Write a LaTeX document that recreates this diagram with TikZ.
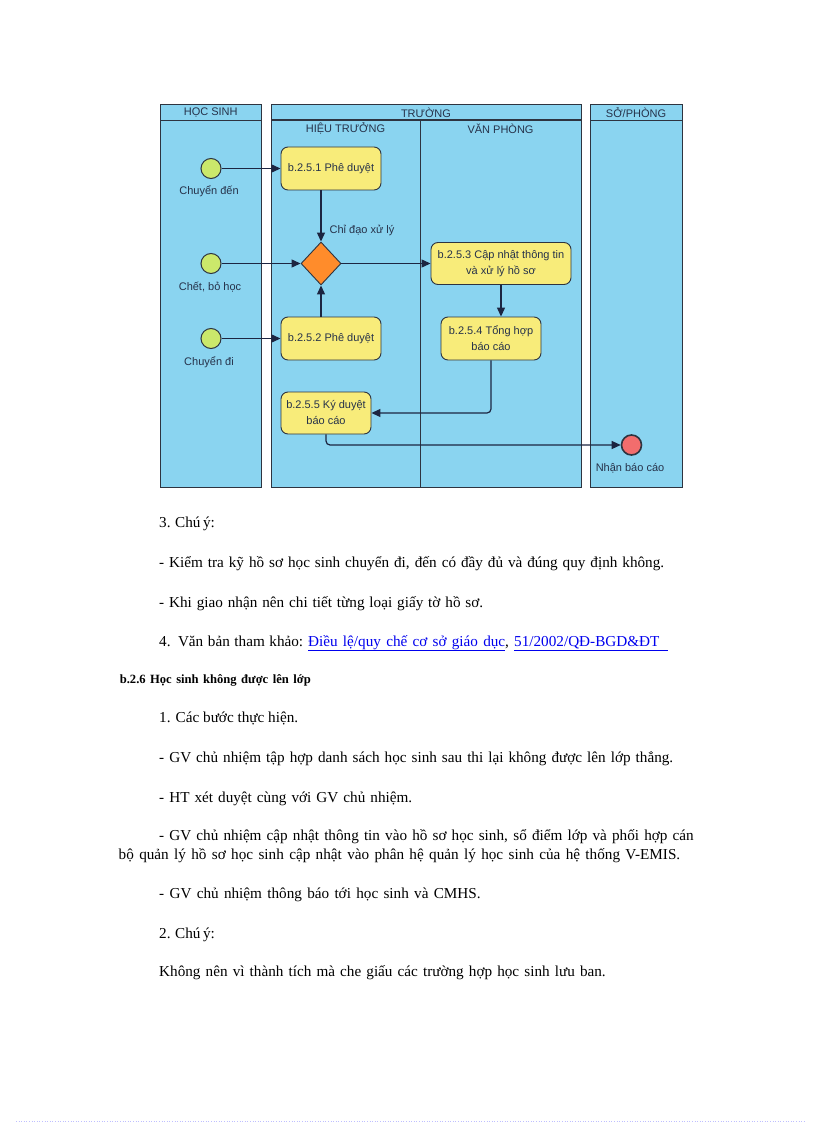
\documentclass[tikz,border=0pt]{standalone}
\usepackage{fontspec}
\setmainfont{Liberation Serif}
\newfontfamily\dgfont{Liberation Sans}
\usetikzlibrary{arrows.meta,shapes.geometric}
\definecolor{lanefill}{HTML}{8AD4F0}
\definecolor{laneline}{HTML}{2E3440}
\definecolor{taskfill}{HTML}{F8EC7A}
\definecolor{startfill}{HTML}{CBE86B}
\definecolor{endfill}{HTML}{F26D6D}
\definecolor{gatefill}{HTML}{FF8C2B}
\definecolor{dgtext}{HTML}{26324A}
\definecolor{flow}{HTML}{1C2541}
\definecolor{linkblue}{HTML}{0000EE}
\newcommand\lnkbox[2]{\textcolor{linkblue}{\underline{\makebox[#1pt][s]{#2}}}}
\begin{document}
\begin{tikzpicture}[x=1pt,y=-1pt,
  lane/.style={draw=laneline, line width=0.9pt, fill=lanefill},
  hdr/.style={font=\dgfont\fontsize{11}{13}\selectfont, text=dgtext, inner sep=0pt},
  lbl/.style={font=\dgfont\fontsize{11}{13}\selectfont, text=dgtext, inner sep=0pt},
  task/.style={draw=laneline, line width=0.9pt, fill=taskfill, rounded corners=7pt,
    minimum width=100pt, minimum height=43pt, align=center, inner sep=0pt,
    font=\dgfont\fontsize{11}{16}\selectfont, text=dgtext},
  startev/.style={circle, draw=laneline, line width=1pt, fill=startfill, minimum size=20pt, inner sep=0pt},
  endev/.style={circle, draw=laneline, line width=1.6pt, fill=endfill, minimum size=20pt, inner sep=0pt},
  gate/.style={diamond, draw=laneline, line width=0.9pt, fill=gatefill, minimum width=40pt, minimum height=43pt, inner sep=0pt},
  arr/.style={draw=flow, line width=1.2pt, -{Triangle[length=9pt,width=8pt]}},
  body/.style={anchor=base west, inner sep=0pt, font=\fontsize{15.2}{17}\selectfont},
  head/.style={anchor=base west, inner sep=0pt, font=\bfseries\fontsize{12.6}{15}\selectfont}
]
\useasboundingbox[fill=white] (0,0) rectangle (816,1123);

% ---------- lanes ----------
\draw[lane] (160.5,104) rectangle (261,487);
\draw[laneline, line width=0.9pt] (160.5,120) -- (261,120);
\draw[lane] (271,104) rectangle (581,487);
\draw[laneline, line width=2pt] (271,120) -- (581,120);
\draw[laneline, line width=0.9pt] (420,120) -- (420,487);
\draw[lane] (590,104) rectangle (682,487);
\draw[laneline, line width=0.9pt] (590,120) -- (682,120);

\node[hdr] (hhs) at (210.75,112.5) {HỌC SINH};
\node[hdr] (htr) at (426,112.5) {TRƯỜNG};
\node[hdr] (hht) at (345.5,128.5) {HIỆU TRƯỞNG};
\node[hdr] (hvp) at (500.5,128.5) {VĂN PHÒNG};
\node[hdr] (hsp) at (636,112.5) {SỞ/PHÒNG};

% ---------- flow nodes ----------
\node[startev] (s1) at (211,168.5) {};
\node[lbl] (l1) at (209,191) {Chuyển đến};
\node[startev] (s2) at (211,263.5) {};
\node[lbl] (l2) at (210,287) {Chết, bỏ học};
\node[startev] (s3) at (211,338.5) {};
\node[lbl] (l3) at (209,362) {Chuyển đi};

\node[task] (b1) at (331,168.5) {b.2.5.1 Phê duyệt};
\node[gate] (g) at (321,263.5) {};
\node[lbl] (lc) at (362,230) {Chỉ đạo xử lý};
\node[task] (b2) at (331,338.5) {b.2.5.2 Phê duyệt};
\node[task, minimum width=140pt, minimum height=42pt] (b3) at (501,263.5) {b.2.5.3 Cập nhật thông tin\\và xử lý hồ sơ};
\node[task] (b4) at (491,338.5) {b.2.5.4 Tổng hợp\\báo cáo};
\node[task, minimum width=90pt, minimum height=42pt] (b5) at (326,413) {b.2.5.5 Ký duyệt\\báo cáo};
\node[endev] (e) at (631.5,445) {};
\node[lbl] (le) at (630,468) {Nhận báo cáo};

% ---------- connectors ----------
\draw[arr] (s1) -- (s1 -| b1.west);
\draw[arr] (g.north |- b1.south) -- (g.north);
\draw[arr] (s2) -- (g.west);
\draw[arr] (g.east) -- (b3.west);
\draw[arr] (g.south |- b2.north) -- (g.south);
\draw[arr] (s3) -- (s3 -| b2.west);
\draw[arr] (b3.south) -- (b3.south |- b4.north);
\draw[arr, rounded corners=4pt] (b4.south) |- (b5.east);
\draw[arr, rounded corners=4pt] (b5.south) |- (e.west);

% ---------- body text ----------
\node[body] (t1) at (159,527) {\makebox[55pt][s]{3. Chú ý:}};
\node[body] (t2) at (159,567) {\makebox[505pt][s]{- Kiểm tra kỹ hồ sơ học sinh chuyển đi, đến có đầy đủ và đúng quy định không.}};
\node[body] (t3) at (159,607) {\makebox[324pt][s]{- Khi giao nhận nên chi tiết từng loại giấy tờ hồ sơ.}};
\node[body] (t4) at (159,646) {\makebox[144pt][s]{4. Văn bản tham khảo:}\hspace{5pt}\lnkbox{197}{Điều lệ/quy chế cơ sở giáo dục}\makebox[9pt][l]{,}\lnkbox{154}{51/2002/QĐ-BGD\&ĐT}};
\node[head] (t5) at (119.6,683) {\makebox[191pt][s]{b.2.6 Học sinh không được lên lớp}};
\node[body] (t6) at (159,722) {\makebox[139pt][s]{1. Các bước thực hiện.}};
\node[body] (t7) at (159,762) {\makebox[514pt][s]{- GV chủ nhiệm tập hợp danh sách học sinh sau thi lại không được lên lớp thẳng.}};
\node[body] (t8) at (159,802) {\makebox[253pt][s]{- HT xét duyệt cùng với GV chủ nhiệm.}};
\node[body] (t9) at (159,840.5) {\makebox[534.5pt][s]{- GV chủ nhiệm cập nhật thông tin vào hồ sơ học sinh, sổ điểm lớp và phối hợp cán}};
\node[body] (t10) at (118.5,859.5) {\makebox[561.5pt][s]{bộ quản lý hồ sơ học sinh cập nhật vào phân hệ quản lý học sinh của hệ thống V-EMIS.}};
\node[body] (t11) at (159,898.5) {\makebox[321.5pt][s]{- GV chủ nhiệm thông báo tới học sinh và CMHS.}};
\node[body] (t12) at (159,938) {\makebox[55pt][s]{2. Chú ý:}};
\node[body] (t13) at (159,976.5) {\makebox[446.5pt][s]{Không nên vì thành tích mà che giấu các trường hợp học sinh lưu ban.}};

% ---------- page edge dots ----------
\coordinate (d1) at (16,1121.5);
\coordinate (d2) at (806,1121.5);
\draw[dotted, draw=blue!25, line width=0.6pt] (d1) -- (d2);
\end{tikzpicture}
\end{document}
